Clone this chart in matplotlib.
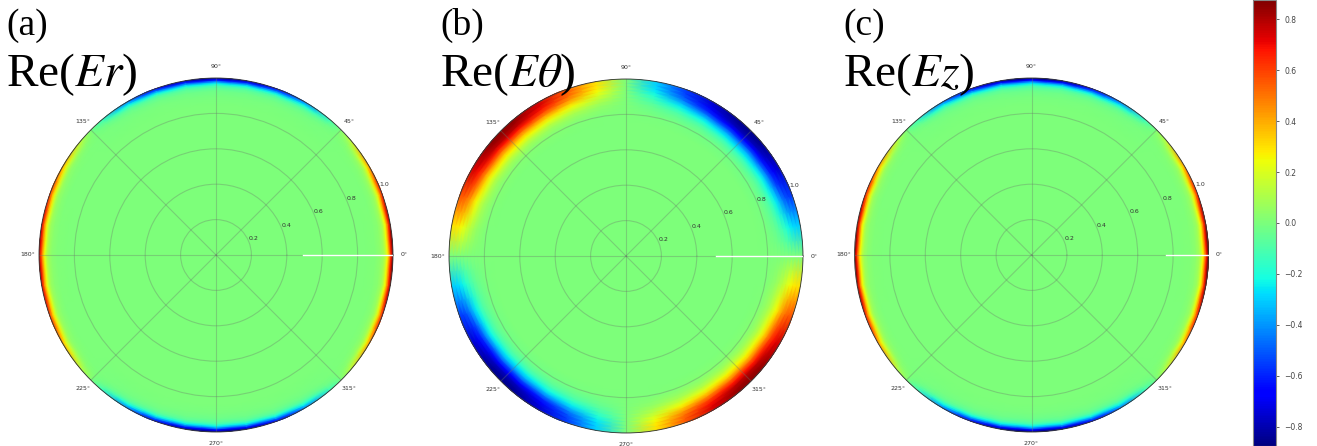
import matplotlib
matplotlib.use("Agg")

import numpy as np
import matplotlib.pyplot as plt

plt.rcParams['mathtext.fontset'] = 'stix'

# angles (deg) where the edge value was read, every 10 deg
theta_deg = list(range(0, 360, 10))

# field value at the rim r=1 for each panel
edge_er = [0.86, 0.81, 0.66, 0.43, 0.15, -0.14, -0.42, -0.64, -0.78,
           -0.83, -0.78, -0.64, -0.42, -0.14, 0.14, 0.39, 0.60, 0.73,
           0.78, 0.73, 0.60, 0.39, 0.14, -0.15, -0.43, -0.66, -0.81,
           -0.86, -0.81, -0.66, -0.43, -0.15, 0.15, 0.43, 0.66, 0.81]
edge_et = [0.0, -0.30, -0.56, -0.75, -0.85, -0.85, -0.75, -0.56, -0.30,
           0.0, 0.30, 0.56, 0.75, 0.85, 0.85, 0.75, 0.56, 0.30,
           0.0, -0.30, -0.56, -0.75, -0.85, -0.85, -0.75, -0.56, -0.30,
           0.0, 0.30, 0.56, 0.75, 0.85, 0.85, 0.75, 0.56, 0.30]
edge_ez = [0.87, 0.82, 0.67, 0.44, 0.15, -0.15, -0.44, -0.67, -0.82,
           -0.87, -0.82, -0.67, -0.44, -0.15, 0.15, 0.44, 0.67, 0.82,
           0.87, 0.82, 0.67, 0.44, 0.15, -0.15, -0.44, -0.67, -0.82,
           -0.87, -0.82, -0.67, -0.44, -0.15, 0.15, 0.44, 0.67, 0.82]

# radial fall-off from the rim (fraction of rim value)
r_thin = [0.0, 0.85, 0.90, 0.93, 0.95, 0.96, 0.97, 0.98, 0.99, 1.0, 1.01]
prof_thin = [0.0, 0.0, 0.01, 0.04, 0.10, 0.17, 0.30, 0.50, 0.76, 1.0, 1.0]
r_wide = [0.0, 0.75, 0.80, 0.82, 0.84, 0.86, 0.88, 0.90, 0.92, 0.94, 0.96, 0.98, 1.0, 1.01]
prof_wide = [0.0, 0.0, 0.02, 0.05, 0.10, 0.18, 0.30, 0.44, 0.62, 0.80, 0.92, 0.98, 1.0, 1.0]

panel_tags = ['(a)', '(b)', '(c)']
panel_titles = [r'Re($Er$)', r'Re($E\theta$)', r'Re($Ez$)']
seam_start = [0.49, 0.51, 0.76]

r_ticks = [0.2, 0.4, 0.6, 0.8, 1.0]
cbar_ticks = [-0.8, -0.6, -0.4, -0.2, 0.0, 0.2, 0.4, 0.6, 0.8]
vlim = 0.875

W, H = 1317, 446
fig = plt.figure(figsize=(W / 100, H / 100), dpi=100)

# centre (px) of each polar plot, radius in px
centres = [(216, 255), (626, 256), (1031.5, 255)]
rad = 177
text_x = [6, 440, 843]

fields = [(edge_er, r_thin, prof_thin),
          (edge_et, r_wide, prof_wide),
          (edge_ez, r_thin, prof_thin)]

for i, (edge, rr, prof) in enumerate(fields):
    cx, cy = centres[i]
    rect = [(cx - rad) / W, (H - cy - rad) / H, 2 * rad / W, 2 * rad / H]
    ax = fig.add_axes(rect, projection='polar')

    th = np.deg2rad(theta_deg + [360])
    vals = np.array(edge + [edge[0]])
    T, R = np.meshgrid(th, rr)
    Z = np.outer(prof, vals)
    mesh = ax.pcolormesh(T, R, Z, cmap='jet', vmin=-vlim, vmax=vlim,
                         shading='gouraud')
    ax.set_ylim(0, 1)
    ax.set_rticks(r_ticks)
    ax.grid(True, color='#6a7a6a', alpha=0.35, linewidth=0.8)
    ax.tick_params(labelsize=4.5, colors='#333333')
    ax.tick_params(axis='x', pad=-2.5)
    ax.plot([0, 0], [seam_start[i], 1], color='white', linewidth=1, zorder=3)
    ax.spines['polar'].set_linewidth(0.6)
    ax.spines['polar'].set_edgecolor('#333333')

    fig.text(text_x[i] / W, 1 - 35 / H, panel_tags[i], fontsize=27,
             family='Liberation Serif', va='baseline')
    fig.text(text_x[i] / W, 1 - 86 / H, panel_titles[i], fontsize=34,
             family='Liberation Serif', va='baseline')

cax = fig.add_axes([1253 / W, 0.0, 23 / W, 1.0])
cb = fig.colorbar(mesh, cax=cax, ticks=cbar_ticks)
cb.ax.tick_params(labelsize=5.5, colors='#444444', length=2.5, width=0.6)
cb.outline.set_edgecolor('#888888')
cb.outline.set_linewidth(0.8)

fig.savefig('out.png', dpi=100)
